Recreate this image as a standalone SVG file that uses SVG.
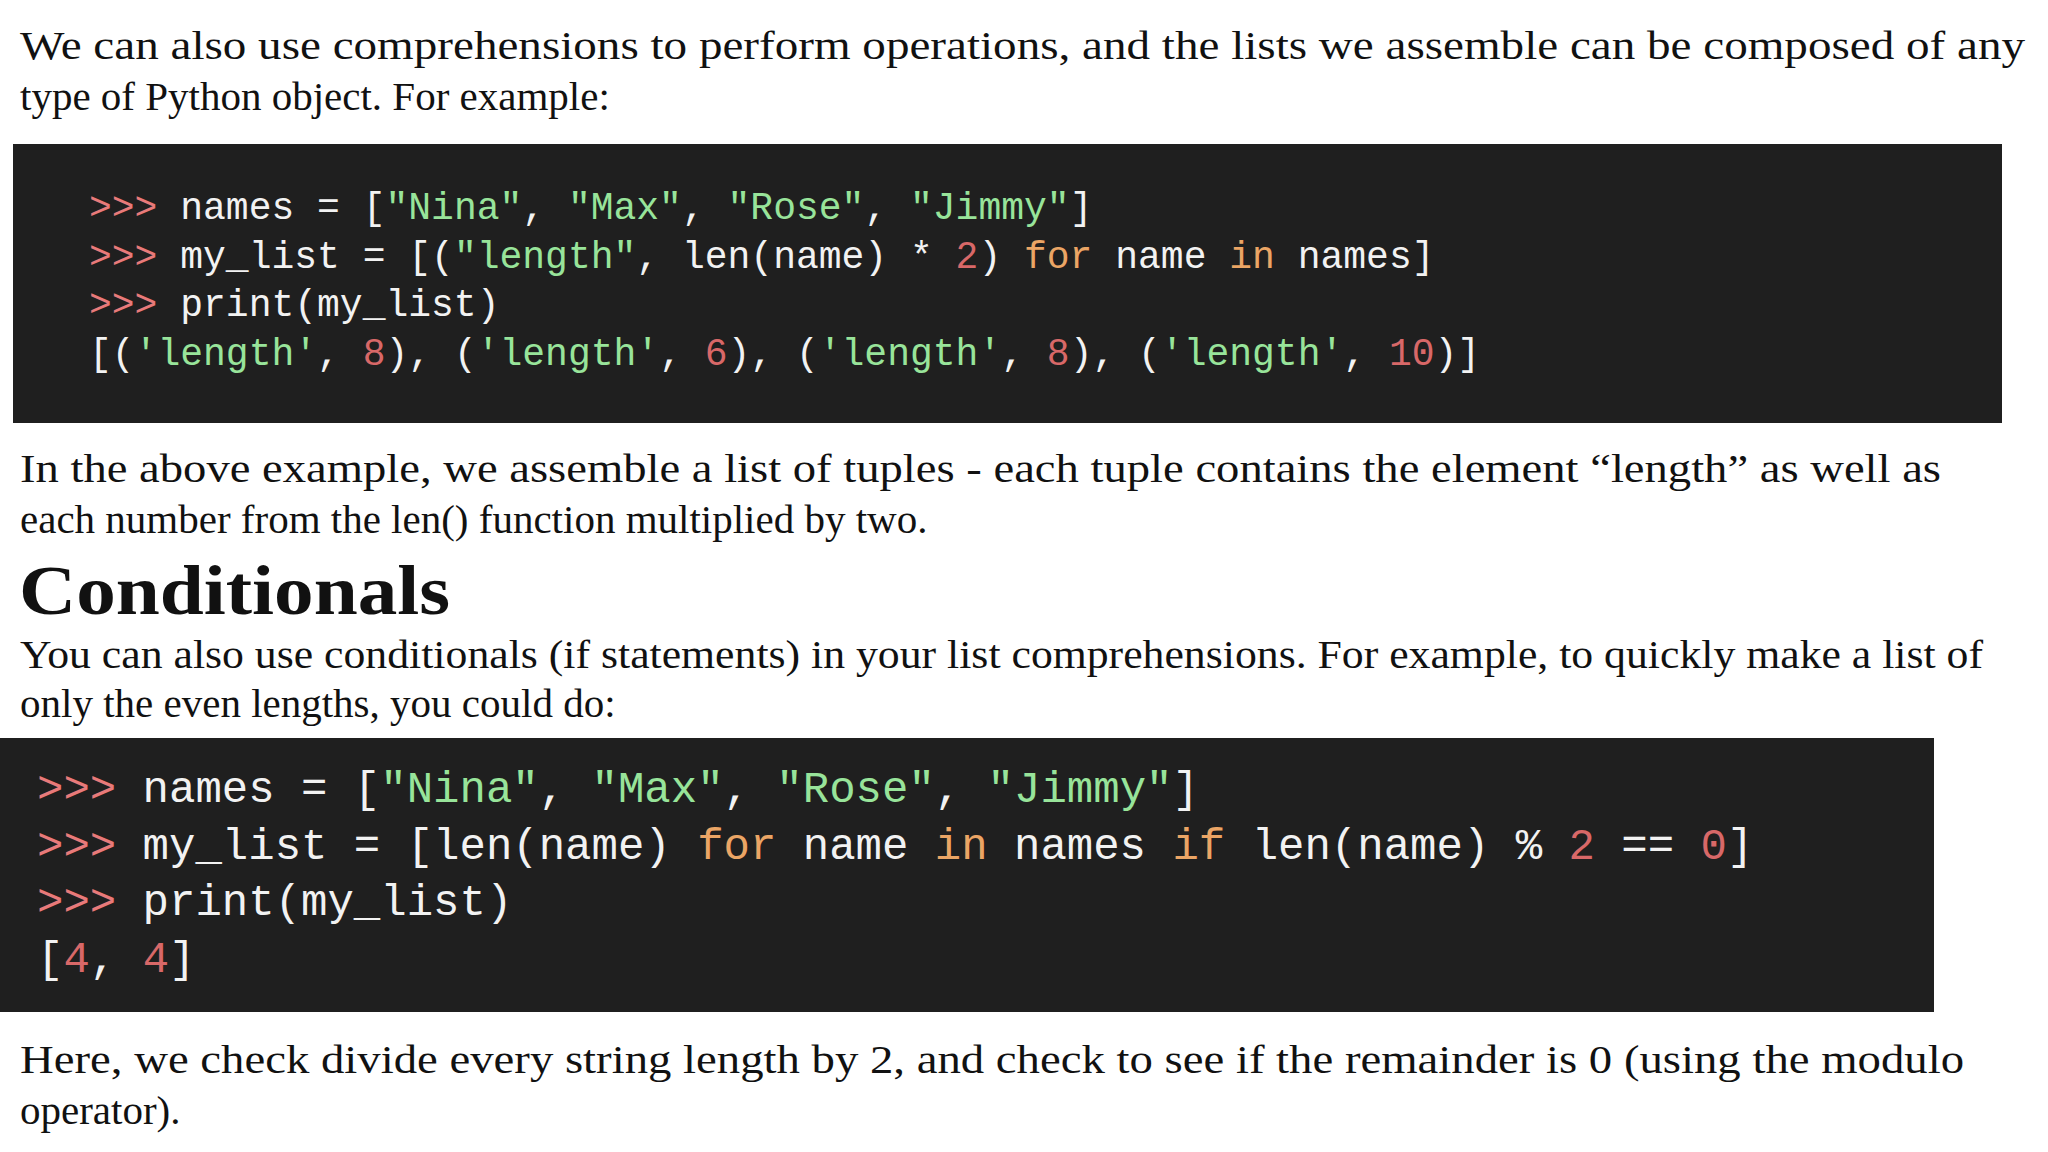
<svg xmlns="http://www.w3.org/2000/svg" width="2048" height="1152" viewBox="0 0 2048 1152">
<style>
.p{font-family:"Liberation Serif","DejaVu Serif",serif;font-size:41px;fill:#111}
.h{font-family:"Liberation Serif","DejaVu Serif",serif;font-size:70px;font-weight:bold;fill:#111}
.c1{font-family:"Liberation Mono","DejaVu Sans Mono",monospace;font-size:38px;fill:#f2f2f2;white-space:pre}
.c2{font-family:"Liberation Mono","DejaVu Sans Mono",monospace;font-size:44px;fill:#f2f2f2;white-space:pre}
.pr{fill:#e87a7a}.s{fill:#98e49a}.n{fill:#d86868}.k{fill:#eba565}
.box{fill:#1f1f1f}
</style>
<rect width="2048" height="1152" fill="#fff"/>
<g id="para1">
<text class="p" x="20" y="59" textLength="2005" lengthAdjust="spacingAndGlyphs">We can also use comprehensions to perform operations, and the lists we assemble can be composed of any</text>
<text class="p" x="20" y="110">type of Python object. For example:</text>
</g>
<g id="code1">
<rect class="box" x="13" y="144" width="1989" height="279"/>
<text class="c1" x="89" y="219" xml:space="preserve"><tspan class="pr">&gt;&gt;&gt;</tspan> names = [<tspan class="s">"Nina"</tspan>, <tspan class="s">"Max"</tspan>, <tspan class="s">"Rose"</tspan>, <tspan class="s">"Jimmy"</tspan>]</text>
<text class="c1" x="89" y="268" xml:space="preserve"><tspan class="pr">&gt;&gt;&gt;</tspan> my_list = [(<tspan class="s">"length"</tspan>, len(name) * <tspan class="n">2</tspan>) <tspan class="k">for</tspan> name <tspan class="k">in</tspan> names]</text>
<text class="c1" x="89" y="316" xml:space="preserve"><tspan class="pr">&gt;&gt;&gt;</tspan> print(my_list)</text>
<text class="c1" x="89" y="365" xml:space="preserve">[(<tspan class="s">'length'</tspan>, <tspan class="n">8</tspan>), (<tspan class="s">'length'</tspan>, <tspan class="n">6</tspan>), (<tspan class="s">'length'</tspan>, <tspan class="n">8</tspan>), (<tspan class="s">'length'</tspan>, <tspan class="n">10</tspan>)]</text>
</g>
<g id="para2">
<text class="p" x="20" y="482" textLength="1921" lengthAdjust="spacingAndGlyphs">In the above example, we assemble a list of tuples - each tuple contains the element “length” as well as</text>
<text class="p" x="20" y="533">each number from the len() function multiplied by two.</text>
</g>
<g id="heading">
<text class="h" x="19" y="614" textLength="431" lengthAdjust="spacingAndGlyphs">Conditionals</text>
</g>
<g id="para3">
<text class="p" x="20" y="668" textLength="1963" lengthAdjust="spacingAndGlyphs">You can also use conditionals (if statements) in your list comprehensions. For example, to quickly make a list of</text>
<text class="p" x="20" y="717">only the even lengths, you could do:</text>
</g>
<g id="code2">
<rect class="box" x="0" y="738" width="1934" height="274"/>
<text class="c2" x="37" y="802" xml:space="preserve"><tspan class="pr">&gt;&gt;&gt;</tspan> names = [<tspan class="s">"Nina"</tspan>, <tspan class="s">"Max"</tspan>, <tspan class="s">"Rose"</tspan>, <tspan class="s">"Jimmy"</tspan>]</text>
<text class="c2" x="37" y="859" xml:space="preserve"><tspan class="pr">&gt;&gt;&gt;</tspan> my_list = [len(name) <tspan class="k">for</tspan> name <tspan class="k">in</tspan> names <tspan class="k">if</tspan> len(name) % <tspan class="n">2</tspan> == <tspan class="n">0</tspan>]</text>
<text class="c2" x="37" y="915" xml:space="preserve"><tspan class="pr">&gt;&gt;&gt;</tspan> print(my_list)</text>
<text class="c2" x="37" y="972" xml:space="preserve">[<tspan class="n">4</tspan>, <tspan class="n">4</tspan>]</text>
</g>
<g id="para4">
<text class="p" x="20" y="1073" textLength="1944" lengthAdjust="spacingAndGlyphs">Here, we check divide every string length by 2, and check to see if the remainder is 0 (using the modulo</text>
<text class="p" x="20" y="1124">operator).</text>
</g>
</svg>
